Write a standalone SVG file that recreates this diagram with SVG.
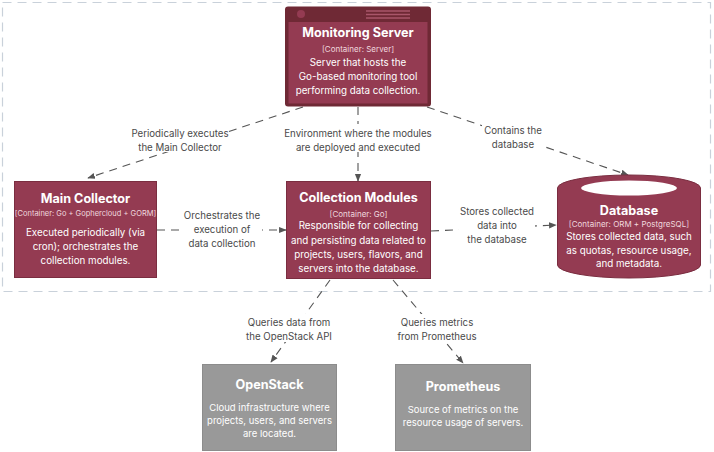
<svg xmlns="http://www.w3.org/2000/svg" width="714" height="452" viewBox="0 0 714 452">
  <style>
    text { font-family: Inter, "Noto Sans", "Liberation Sans", sans-serif; text-anchor: middle; }
    .title { font-size: 12.6px; font-weight: bold; fill: #ffffff; }
    .tech { font-size: 8px; fill: #f0d8de; }
    .desc { font-size: 9.8px; fill: #ffffff; }
    .lbl { font-size: 9.7px; fill: #4a4a4a; }
    .box { fill: #943b52; stroke: #7a2d40; stroke-width: 1; }
    .ext { fill: #999999; stroke: #8c8c8c; stroke-width: 1; }
    .edge { fill: none; stroke: #555555; stroke-width: 1.1; stroke-dasharray: 8 6; }
    .boundary { fill: none; stroke: #c9d1da; stroke-width: 1.2; stroke-dasharray: 9 6; }
  </style>
  <defs>
    <marker id="arrow" viewBox="0 0 10 10" refX="9" refY="5" markerWidth="7" markerHeight="7" orient="auto">
      <path d="M0,1 L10,5 L0,9 Z" fill="#555555"/>
    </marker>
  </defs>

  <rect width="714" height="452" fill="#ffffff"/>

  <!-- system boundary -->
  <rect class="boundary" x="2.5" y="2.5" width="708" height="289"/>

  <!-- connectors -->
  <g id="connectors">
    <path class="edge" d="M303,107 L88,178" marker-end="url(#arrow)"/>
    <path class="edge" d="M358,107 L358,181" marker-end="url(#arrow)"/>
    <path class="edge" d="M427,107 L628,175" marker-end="url(#arrow)"/>
    <path class="edge" d="M157,230 L286,230" marker-end="url(#arrow)"/>
    <path class="edge" d="M431,231 L556,225" marker-end="url(#arrow)"/>
    <path class="edge" d="M330,280 L271,362" marker-end="url(#arrow)"/>
    <path class="edge" d="M393,280 L463,363" marker-end="url(#arrow)"/>

    <g id="connector-labels">
      <rect x="133" y="124" width="94" height="28" fill="#ffffff"/>
      <text class="lbl" x="180" y="137">Periodically executes</text>
      <text class="lbl" x="180" y="151">the Main Collector</text>

      <rect x="285" y="124" width="146" height="28" fill="#ffffff"/>
      <text class="lbl" x="358" y="137">Environment where the modules</text>
      <text class="lbl" x="358" y="151">are deployed and executed</text>

      <rect x="482" y="122" width="62" height="28" fill="#ffffff"/>
      <text class="lbl" x="513" y="134">Contains the</text>
      <text class="lbl" x="513" y="148">database</text>

      <rect x="182" y="207" width="80" height="42" fill="#ffffff"/>
      <text class="lbl" x="222" y="219">Orchestrates the</text>
      <text class="lbl" x="222" y="233">execution of</text>
      <text class="lbl" x="222" y="247">data collection</text>

      <rect x="459" y="203" width="76" height="42" fill="#ffffff"/>
      <text class="lbl" x="497" y="215">Stores collected</text>
      <text class="lbl" x="497" y="229">data into</text>
      <text class="lbl" x="497" y="243">the database</text>

      <rect x="244" y="314" width="90" height="28" fill="#ffffff"/>
      <text class="lbl" x="289" y="326">Queries data from</text>
      <text class="lbl" x="289" y="340">the OpenStack API</text>

      <rect x="397" y="314" width="80" height="28" fill="#ffffff"/>
      <text class="lbl" x="437" y="326">Queries metrics</text>
      <text class="lbl" x="437" y="340">from Prometheus</text>
    </g>
  </g>

  <!-- Monitoring Server -->
  <g id="monitoring-server">
    <rect x="285" y="6.5" width="146" height="100" rx="3" fill="#6f2935"/>
    <rect x="288.5" y="22" width="139" height="81.5" fill="#943b52"/>
    <circle cx="301" cy="14" r="4" fill="#943b52"/>
    <g stroke="#a9566a" stroke-width="1.5">
      <line x1="366" y1="11" x2="410" y2="11"/>
      <line x1="366" y1="14.5" x2="410" y2="14.5"/>
      <line x1="366" y1="18" x2="410" y2="18"/>
    </g>
    <text class="title" x="358" y="37">Monitoring Server</text>
    <text class="tech" x="358" y="52">[Container: Server]</text>
    <text class="desc" x="358" y="66">Server that hosts the</text>
    <text class="desc" x="358" y="80">Go-based monitoring tool</text>
    <text class="desc" x="358" y="94">performing data collection.</text>
  </g>

  <!-- Main Collector -->
  <g id="main-collector">
    <rect class="box" x="14.5" y="181.5" width="142" height="96"/>
    <text class="title" x="85.5" y="203">Main Collector</text>
    <text class="tech" x="85.5" y="216" style="font-size:7.5px">[Container: Go + Gophercloud + GORM]</text>
    <text class="desc" x="85.5" y="236">Executed periodically (via</text>
    <text class="desc" x="85.5" y="250">cron); orchestrates the</text>
    <text class="desc" x="85.5" y="264">collection modules.</text>
  </g>

  <!-- Collection Modules -->
  <g id="collection-modules">
    <rect class="box" x="286.5" y="181.5" width="144" height="97"/>
    <text class="title" x="358.5" y="202">Collection Modules</text>
    <text class="tech" x="358.5" y="217">[Container: Go]</text>
    <text class="desc" x="358.5" y="229">Responsible for collecting</text>
    <text class="desc" x="358.5" y="244">and persisting data related to</text>
    <text class="desc" x="358.5" y="258">projects, users, flavors, and</text>
    <text class="desc" x="358.5" y="272">servers into the database.</text>
  </g>

  <!-- Database -->
  <g id="database">
    <path class="box" d="M557.5,188 A71.5,13 0 0 1 700.5,188 L700.5,265 A71.5,13 0 0 1 557.5,265 Z"/>
    <ellipse cx="629" cy="188" rx="48" ry="7.5" fill="#ffffff"/>
    <text class="title" x="629" y="215">Database</text>
    <text class="tech" x="629" y="227">[Container: ORM + PostgreSQL]</text>
    <text class="desc" x="629" y="240">Stores collected data, such</text>
    <text class="desc" x="629" y="254">as quotas, resource usage,</text>
    <text class="desc" x="629" y="267">and metadata.</text>
  </g>

  <!-- OpenStack -->
  <g id="openstack">
    <rect class="ext" x="202.5" y="364.5" width="134" height="86"/>
    <text class="title" x="269.5" y="389">OpenStack</text>
    <text class="desc" x="269.5" y="411" style="font-size:9.5px">Cloud infrastructure where</text>
    <text class="desc" x="269.5" y="424" style="font-size:9.5px">projects, users, and servers</text>
    <text class="desc" x="269.5" y="437" style="font-size:9.5px">are located.</text>
  </g>

  <!-- Prometheus -->
  <g id="prometheus">
    <rect class="ext" x="395.5" y="364.5" width="135" height="86"/>
    <text class="title" x="463" y="391">Prometheus</text>
    <text class="desc" x="463" y="413" style="font-size:9.5px">Source of metrics on the</text>
    <text class="desc" x="463" y="426" style="font-size:9.5px">resource usage of servers.</text>
  </g>
</svg>
